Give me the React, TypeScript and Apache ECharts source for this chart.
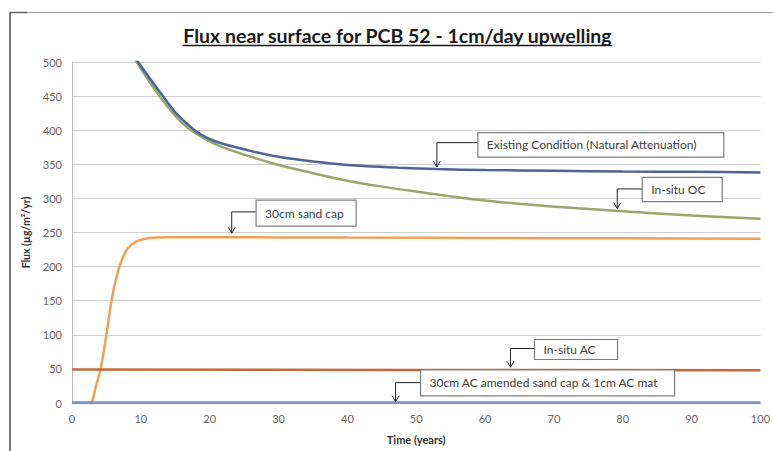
import React, { useEffect, useRef } from "react";
import * as echarts from "echarts";

// ---- Data ----
const titleText = "Flux near surface for PCB 52 - 1cm/day upwelling";
const xAxisName = "Time (years)";
const yAxisName = "Flux (µg/m²/yr)";

const seriesNames = [
  "30cm sand cap",
  "In-situ AC",
  "30cm AC amended sand cap & 1cm AC mat",
  "In-situ OC",
  "Existing Condition (Natural Attenuation)",
];

const tSandCap = [0, 2.6, 3.47, 4.15, 5.0, 5.74, 6.4, 7.05, 8.1, 9.36, 11.3, 14.2, 20, 40, 60, 80, 100];
const vSandCap = [0, 0, 24, 50, 100, 150, 182, 205, 227, 237, 242, 243, 243, 242.5, 242, 241.5, 241];

const tInSituAC = [0, 50, 100];
const vInSituAC = [49, 48.5, 48];

const tACAmended = [0, 50, 100];
const vACAmended = [0.5, 0.5, 0.5];

const tInSituOC = [8.2, 9.4, 12.7, 15.1, 17.3, 21.4, 29.6, 35, 40, 44.6, 50, 59, 65, 73.5, 80, 90, 100];
const vInSituOC = [524, 500, 450, 420, 400, 377, 350, 337, 326, 318, 310, 298, 292, 285.5, 281, 275, 270];

const tExisting = [8.4, 9.6, 13.2, 15.1, 17.8, 19.5, 21.4, 26.2, 30, 35, 40, 47.5, 53, 60, 70, 80, 90, 100];
const vExisting = [522, 500, 450, 425, 400, 389.5, 381.5, 369, 361, 354, 349, 345, 343, 341.5, 340.5, 339.5, 339, 338];

const xTicks = [0, 10, 20, 30, 40, 50, 60, 70, 80, 90, 100];
const yTicks = [0, 50, 100, 150, 200, 250, 300, 350, 400, 450, 500];

// Callout labels and the data points their arrows point at
const calloutLabels = [
  "Existing Condition (Natural Attenuation)",
  "In-situ OC",
  "30cm sand cap",
  "In-situ AC",
  "30cm AC amended sand cap & 1cm AC mat",
];
const calloutTargetT = [53, 79.2, 23.2, 63.7, 47.0];
const calloutTargetV = [346, 285, 249, 52.5, 2];

// ---- Layout / style (pixels) ----
const calloutLayout = [
  { dx: 41, dy: -24.4, w: 246, h: 24.4, top: -10 },
  { dx: 25, dy: -19.7, w: 80, h: 24.3, top: -11.6 },
  { dx: 24.4, dy: -21.3, w: 100, h: 26, top: -11.7 },
  { dx: 24, dy: -18.7, w: 83, h: 20, top: -9 },
  { dx: 25, dy: -19, w: 254, h: 26, top: -12.7 },
];

const seriesColors = ["#f0a057", "#c4673d", "#7f95c2", "#9aa76c", "#4d6496"];
const FONT = "Lato, 'Open Sans', sans-serif";

const zip = (t: number[], v: number[]) => t.map((x, i) => [x, v[i]]);

export default function App() {
  const ref = useRef<HTMLDivElement>(null);

  useEffect(() => {
    if (!ref.current) return;
    const chart = echarts.init(ref.current, null, { renderer: "svg" });

    const seriesData = [
      zip(tSandCap, vSandCap),
      zip(tInSituAC, vInSituAC),
      zip(tACAmended, vACAmended),
      zip(tInSituOC, vInSituOC),
      zip(tExisting, vExisting),
    ];

    chart.setOption({
      animation: false,
      backgroundColor: "#ffffff",
      grid: { left: 72, right: 10, top: 62, bottom: 48, containLabel: false },
      xAxis: {
        type: "value",
        min: xTicks[0],
        max: xTicks[xTicks.length - 1],
        interval: xTicks[1] - xTicks[0],
        name: xAxisName,
        nameLocation: "middle",
        nameGap: 31,
        nameTextStyle: { fontFamily: FONT, fontSize: 11, fontWeight: "bold", color: "#333" },
        axisLine: { show: true, lineStyle: { color: "#bfbfbf" } },
        axisTick: { show: false },
        axisLabel: { margin: 10, fontFamily: FONT, fontSize: 11, color: "#666" },
        splitLine: { show: false },
      },
      yAxis: {
        type: "value",
        min: yTicks[0],
        max: yTicks[yTicks.length - 1],
        interval: yTicks[1] - yTicks[0],
        name: yAxisName,
        nameLocation: "middle",
        nameGap: 38,
        nameRotate: 90,
        nameTextStyle: { fontFamily: FONT, fontSize: 10.5, fontWeight: "bold", color: "#333" },
        axisLine: { show: true, lineStyle: { color: "#bfbfbf" } },
        axisTick: { show: false },
        axisLabel: { margin: 10, fontFamily: FONT, fontSize: 11, color: "#666" },
        splitLine: { show: true, lineStyle: { color: "#cfcfcf", width: 1 } },
      },
      series: seriesData.map((d, i) => ({
        name: seriesNames[i],
        type: "line",
        data: d,
        showSymbol: false,
        smooth: 0.3,
        clip: true,
        lineStyle: { color: seriesColors[i], width: i === 2 ? 3 : 2.5 },
        itemStyle: { color: seriesColors[i] },
        z: 2 + i,
      })),
    });

    // title with underline
    const titleFont = `bold 19.5px ${FONT}`;
    const canvas = document.createElement("canvas");
    const ctx = canvas.getContext("2d");
    let titleW = 435;
    if (ctx) {
      ctx.font = titleFont;
      titleW = ctx.measureText(titleText).width;
    }
    const titleCx = 397.5;

    const graphics: any[] = [
      // outer frame
      { type: "line", shape: { x1: 10, y1: 12.5, x2: 773, y2: 12.5 }, style: { stroke: "#9a9a9a", lineWidth: 1 }, silent: true },
      { type: "line", shape: { x1: 10, y1: 12, x2: 10, y2: 451 }, style: { stroke: "#7a7a7a", lineWidth: 2 }, silent: true },
      { type: "line", shape: { x1: 10, y1: 12.5, x2: 27, y2: 12.5 }, style: { stroke: "#666", lineWidth: 1.5 }, silent: true },
      {
        type: "text",
        x: titleCx,
        y: 35,
        style: {
          text: titleText,
          font: titleFont,
          fill: "#1a1a1a",
          textAlign: "center",
          textVerticalAlign: "middle",
        },
        silent: true,
      },
      {
        type: "line",
        shape: { x1: titleCx - titleW / 2, y1: 45.5, x2: titleCx + titleW / 2, y2: 45.5 },
        style: { stroke: "#1a1a1a", lineWidth: 1.3 },
        silent: true,
      },
    ];

    calloutLabels.forEach((label, i) => {
      const p = chart.convertToPixel({ gridIndex: 0 }, [calloutTargetT[i], calloutTargetV[i]]) as number[];
      const L = calloutLayout[i];
      const tipX = p[0];
      const tipY = p[1];
      const cy = tipY + L.dy;
      const bx = tipX + L.dx;
      const by = cy + L.top;
      graphics.push(
        {
          type: "polyline",
          shape: { points: [[bx, cy], [tipX, cy], [tipX, tipY]] },
          style: { stroke: "#222", lineWidth: 1, fill: null },
          z: 100,
          silent: true,
        },
        {
          type: "polyline",
          shape: { points: [[tipX - 3.5, tipY - 6], [tipX, tipY], [tipX + 3.5, tipY - 6]] },
          style: { stroke: "#222", lineWidth: 1, fill: null },
          z: 100,
          silent: true,
        },
        {
          type: "rect",
          shape: { x: bx, y: by, width: L.w, height: L.h },
          style: { fill: "#ffffff", stroke: "#7f7f7f", lineWidth: 1.2 },
          z: 100,
          silent: true,
        },
        {
          type: "text",
          x: bx + 9,
          y: by + L.h / 2,
          style: {
            text: label,
            font: `12px ${FONT}`,
            fill: "#404040",
            textAlign: "left",
            textVerticalAlign: "middle",
          },
          z: 101,
          silent: true,
        }
      );
    });

    chart.setOption({ graphic: graphics });

    return () => chart.dispose();
  }, []);

  return (
    <div
      ref={ref}
      style={{ position: "fixed", left: 0, top: 0, width: 773, height: 451 }}
    />
  );
}
